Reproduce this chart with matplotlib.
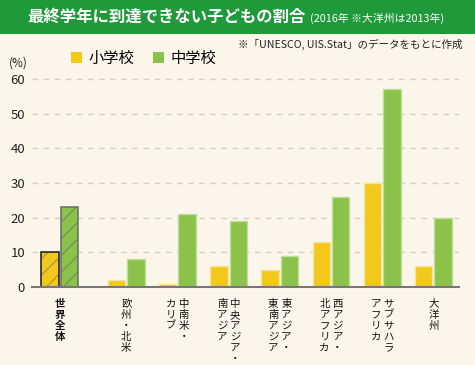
import matplotlib
matplotlib.use("Agg")
import matplotlib.pyplot as plt
from matplotlib.patches import Rectangle, Patch
import numpy as np

plt.rcParams['font.family'] = ['Noto Sans CJK JP', 'DejaVu Sans']
plt.rcParams['hatch.linewidth'] = 0.6

# ---- data ----
label_columns = [
    ["世界全体"],
    ["欧州・北米"],
    ["中南米・", "カリブ"],
    ["中央アジア・", "南アジア"],
    ["東アジア・", "東南アジア"],
    ["西アジア・", "北アフリカ"],
    ["サブサハラ", "アフリカ"],
    ["大洋州"],
]
primary = [10, 2, 1, 6, 5, 13, 30, 6]      # 小学校
secondary = [23, 8, 21, 19, 9, 26, 57, 20]  # 中学校
series_names = ["小学校", "中学校"]
yticks = [0, 10, 20, 30, 40, 50, 60]
title = "最終学年に到達できない子どもの割合"
subtitle = "(2016年 ※大洋州は2013年)"
note = "※「UNESCO, UIS.Stat」のデータをもとに作成"

# ---- style ----
W, H = 475, 365
BG = "#FCF6EA"
TITLE_GREEN = "#1F9A3B"
YELLOW = "#F3C81C"
GREEN = "#8AC24A"
YELLOW_EDGE = "#F9E39A"
GREEN_EDGE = "#BFDF9A"

fig = plt.figure(figsize=(W / 100, H / 100), dpi=100, facecolor=BG)
fig.add_artist(Rectangle((0, 1 - 34 / H), 1, 34 / H, transform=fig.transFigure,
                         facecolor=TITLE_GREEN, edgecolor="none", zorder=0))
fig.text(27 / W, 1 - 17 / H, title, color="white", fontsize=11.8, fontweight="bold",
         ha="left", va="center")
fig.text(310 / W, 1 - 18 / H, subtitle, color="white", fontsize=7.8,
         ha="left", va="center")
fig.text(462 / W, 1 - 44 / H, note, color="#222222", fontsize=7.6,
         ha="right", va="center")

left, right = 32 / W, 459 / W
y0_px, y60_px = 287, 79
ymax = 61
top_px = y0_px - (y0_px - y60_px) * ymax / 60
ax = fig.add_axes([left, 1 - y0_px / H, right - left, (y0_px - top_px) / H])
ax.set_facecolor(BG)

n = len(primary)
x = np.array([0.0] + [1.3 + i for i in range(n - 1)])
bw = 0.34
off = 0.19

for i in range(n):
    if i == 0:
        ax.bar(x[i] - off, primary[i], bw, color=YELLOW, hatch="//",
               edgecolor="#8A8060", linewidth=0, zorder=3)
        ax.bar(x[i] - off, primary[i], bw, fill=False, edgecolor="#1A1A1A",
               linewidth=1.1, zorder=4)
        ax.bar(x[i] + off, secondary[i], bw, color=GREEN, hatch="//",
               edgecolor="#6E7A60", linewidth=0, zorder=3)
        ax.bar(x[i] + off, secondary[i], bw, fill=False, edgecolor="#6A6A6A",
               linewidth=1.1, zorder=4)
    else:
        ax.bar(x[i] - off, primary[i], bw, color=YELLOW, edgecolor=YELLOW_EDGE,
               linewidth=1, zorder=3)
        ax.bar(x[i] + off, secondary[i], bw, color=GREEN, edgecolor=GREEN_EDGE,
               linewidth=1, zorder=3)

ax.set_xlim(-0.54, 7.8)
ax.set_ylim(0, ymax)
ax.set_yticks(yticks)
ax.set_yticklabels([str(v) for v in yticks], fontsize=9.5, color="#222222")
ax.tick_params(axis="y", length=0, pad=5)
ax.set_xticks([])
for s in ["top", "right", "left"]:
    ax.spines[s].set_visible(False)
ax.spines["bottom"].set_color("#777777")
ax.spines["bottom"].set_linewidth(1.5)
ax.spines["bottom"].set_zorder(5)
ax.yaxis.grid(True, color="#D3D0C6", linestyle=(0, (4, 4)), linewidth=1, zorder=0)
ax.set_axisbelow(True)

# vertical (tategaki) category labels, one character at a time
col_gap_pt = 4.7
char_step_pt = 8.0
first_baseline_pt = 14.2
for i, cols in enumerate(label_columns):
    ncol = len(cols)
    for j, col in enumerate(cols):
        # first column is the rightmost
        dx = ((ncol - 1) / 2 - j) * col_gap_pt * 2 if ncol > 1 else 0
        for k, ch in enumerate(col):
            ax.annotate(ch, xy=(x[i], 0), xycoords="data",
                        xytext=(dx, -(first_baseline_pt + k * char_step_pt)),
                        textcoords="offset points",
                        ha="center", va="baseline", fontsize=7.5,
                        fontweight="bold" if i == 0 else "normal",
                        color="#111111", annotation_clip=False)

fig.text(18 / W, 1 - 63 / H, "(%)", fontsize=8.5, ha="center", va="center", color="#222222")

handles = [Patch(facecolor=YELLOW, edgecolor="none"), Patch(facecolor=GREEN, edgecolor="none")]
fig.legend(handles, series_names, loc="center left", bbox_to_anchor=(71 / W, 1 - 58 / H),
           ncol=2, frameon=False, fontsize=11, handlelength=0.75, handleheight=0.75,
           handletextpad=0.4, columnspacing=1.2, borderaxespad=0, borderpad=0)

fig.savefig("out.png", dpi=100, facecolor=BG)
